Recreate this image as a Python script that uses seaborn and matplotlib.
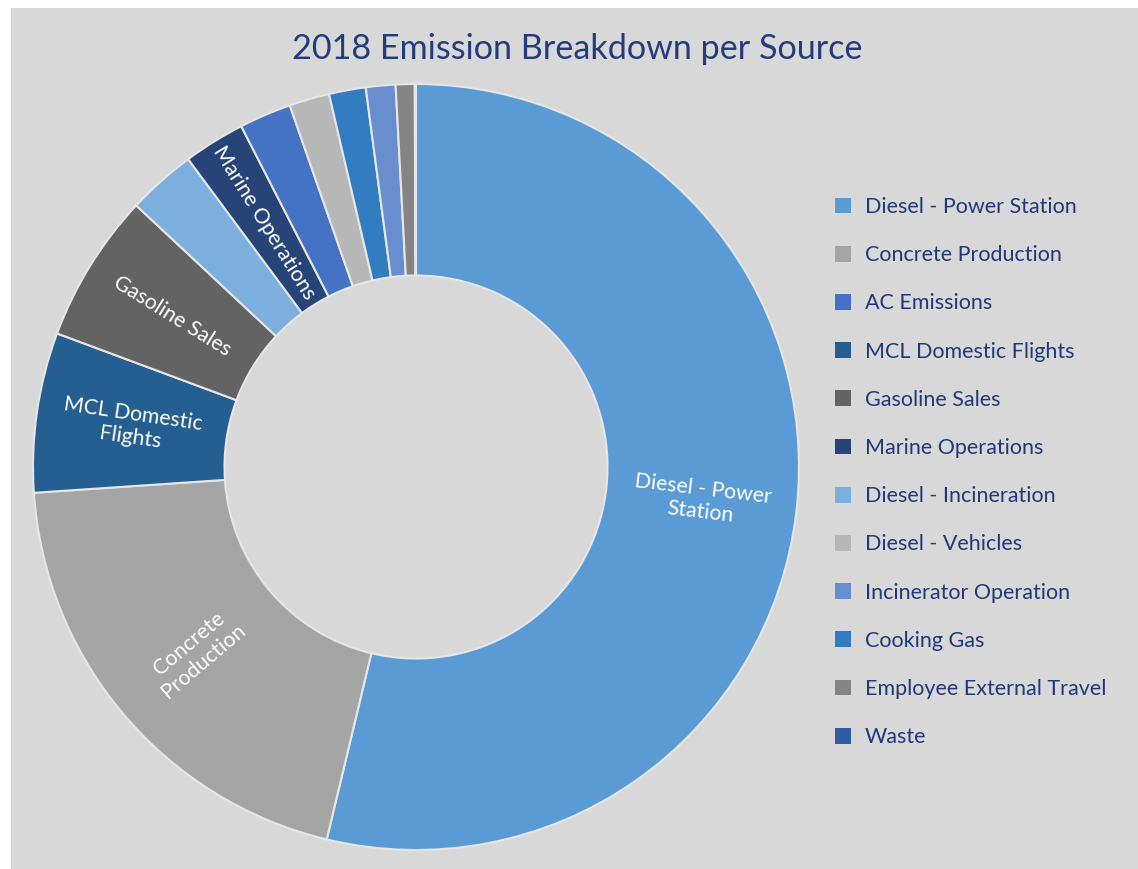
import numpy as np
import matplotlib
matplotlib.use("Agg")
import matplotlib.pyplot as plt
from matplotlib.patches import Patch, Rectangle
import seaborn as sns

# slices in drawing order (clockwise from 12 o'clock), share in %
sources = ['Diesel - Power Station', 'Concrete Production', 'MCL Domestic Flights',
           'Gasoline Sales', 'Diesel - Incineration', 'Marine Operations',
           'AC Emissions', 'Diesel - Vehicles', 'Cooking Gas',
           'Incinerator Operation', 'Employee External Travel', 'Waste']
shares = [53.8, 20.2, 6.75, 6.3, 2.9, 2.6, 2.2, 1.7, 1.55, 1.25, 0.8, 0.05]

# legend order as shown on the right
legend_order = ['Diesel - Power Station', 'Concrete Production', 'AC Emissions',
                'MCL Domestic Flights', 'Gasoline Sales', 'Marine Operations',
                'Diesel - Incineration', 'Diesel - Vehicles', 'Incinerator Operation',
                'Cooking Gas', 'Employee External Travel', 'Waste']

colors = {
    'Diesel - Power Station': '#5b9bd5',
    'Concrete Production': '#a5a5a5',
    'AC Emissions': '#4472c4',
    'MCL Domestic Flights': '#255e91',
    'Gasoline Sales': '#636363',
    'Marine Operations': '#264478',
    'Diesel - Incineration': '#7cafdd',
    'Diesel - Vehicles': '#b7b7b7',
    'Incinerator Operation': '#698ed0',
    'Cooking Gas': '#327dc2',
    'Employee External Travel': '#848484',
    'Waste': '#335aa1',
}

# labels written on the ring (only the larger slices carry one)
slice_labels = {
    'Diesel - Power Station': 'Diesel - Power\nStation',
    'Concrete Production': 'Concrete\nProduction',
    'MCL Domestic Flights': 'MCL Domestic\nFlights',
    'Gasoline Sales': 'Gasoline Sales',
    'Marine Operations': 'Marine Operations',
}

sns.set_theme(style='white')
plt.rcParams['font.family'] = ['Lato', 'DejaVu Sans']

W, H = 1138, 869
fig = plt.figure(figsize=(W / 100, H / 100), dpi=100, facecolor='white')
bg = '#d8d8d8'
fig.patches.append(Rectangle((11 / W, 0), 1, 1 - 8 / H, transform=fig.transFigure,
                             facecolor=bg, edgecolor='none', zorder=-10))

cx, cy, R = 416, 467, 383
ax = fig.add_axes([(cx - R) / W, (H - cy - R) / H, 2 * R / W, 2 * R / H])
ax.set_facecolor('none')

wedge_colors = [colors[s] for s in sources]
ring = 0.5
wedges, _ = ax.pie(shares, colors=wedge_colors, startangle=90, counterclock=False,
                   radius=1, wedgeprops=dict(width=ring, edgecolor='#e6e6e6', linewidth=1.5))
ax.set_xlim(-1, 1)
ax.set_ylim(-1, 1)
ax.set_aspect('equal')
ax.axis('off')

# centre labels on each slice, turned along the radius
for w, s in zip(wedges, sources):
    if s not in slice_labels:
        continue
    mid = np.deg2rad((w.theta1 + w.theta2) / 2)
    r = 1 - ring / 2
    x, y = r * np.cos(mid), r * np.sin(mid)
    rot = (np.rad2deg(mid) + 180) % 360 - 180
    if rot > 90:
        rot -= 180
    elif rot < -90:
        rot += 180
    ax.text(x, y, slice_labels[s], ha='center', va='center', rotation=rot,
            rotation_mode='anchor', color='white', fontsize=15.3, linespacing=1.2)

fig.text(577 / W, 1 - 49 / H, '2018 Emission Breakdown per Source', ha='center', va='center',
         fontsize=24.6, color='#223c7c')

handles = [Patch(facecolor=colors[s], edgecolor='none', label=s) for s in legend_order]
fig.legend(handles=handles, loc='upper left', bbox_to_anchor=(835 / W, 1 - 197 / H),
           frameon=False, fontsize=15.5, labelcolor='#1f3a78', handlelength=0.75,
           handleheight=0.75, handletextpad=0.63, labelspacing=1.31, borderpad=0,
           borderaxespad=0)

fig.savefig('out.png', dpi=100, facecolor='white')
